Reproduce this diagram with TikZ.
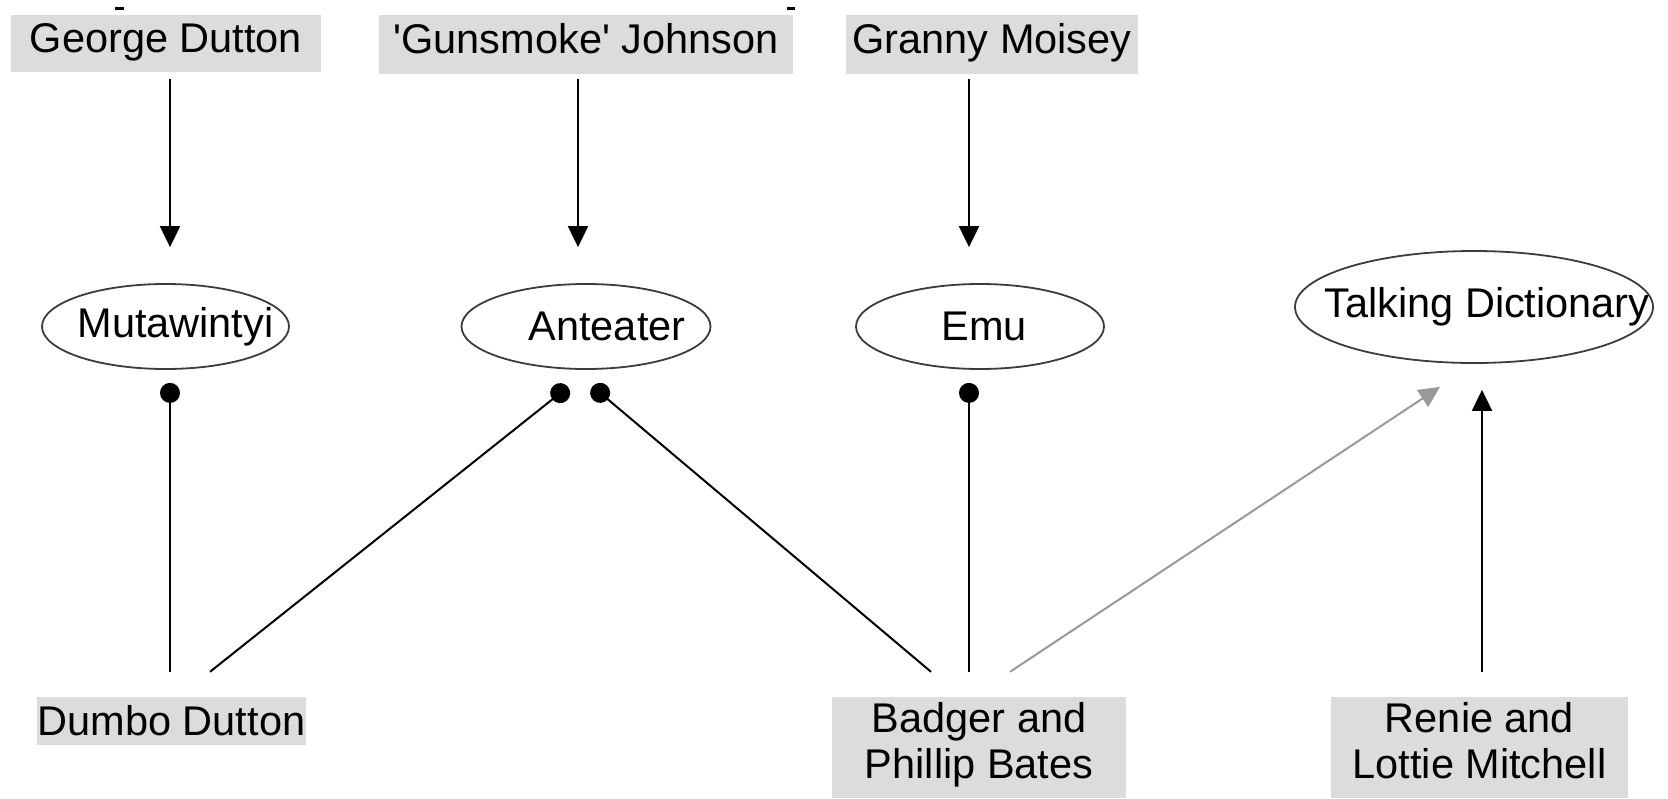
\documentclass[tikz,border=0pt]{standalone}
\usepackage{fontspec}
\setmainfont{Liberation Sans}
\usepackage{tikz}
\usetikzlibrary{arrows.meta,positioning,shapes.geometric,calc}
\definecolor{boxgray}{RGB}{220,220,220}
\definecolor{rimgray}{RGB}{60,60,60}
\tikzstyle{person} = [fill=boxgray, align=center, inner sep=0pt]
\tikzstyle{totem} = [ellipse, draw=rimgray, line width=1.8pt, inner sep=0pt]
\tikzstyle{link} = [draw, line width=2pt, -{Triangle[length=21pt,width=20pt]}]
\tikzstyle{faint} = [link, color=black!40]
\tikzstyle{tie} = [draw, line width=2pt, -{Circle[length=20pt]}]
\newcommand{\who}[4]{node (#1)[person, minimum width=#2, minimum height=#3]{#4}}
\newcommand{\totem}[5]{node (#1)[totem, minimum width=#2, minimum height=#3,
  label={[xshift=#4]center:#5}]{}}

\begin{document}
\begin{tikzpicture}[x=1pt,y=-1pt,font=\fontsize{41.5}{46}\selectfont]
  \useasboundingbox (0,0) rectangle (1668,798);

  % people at the top
  \path (166,43.5) \who{george}{310pt}{57pt}{George Dutton\strut};
  \path (586,44.5) \who{gunsmoke}{414pt}{59pt}{\textquotesingle Gunsmoke\textquotesingle\ Johnson\strut};
  \path (992,44.5) \who{granny}{292pt}{59pt}{Granny Moisey\strut};

  % names
  \path (165.5,326.5) \totem{mut}{247pt}{85pt}{10pt}{Mutawintyi};
  \path (586,326.5) \totem{ant}{249pt}{85pt}{21pt}{Anteater};
  \path (980,326.5) \totem{emu}{248pt}{85pt}{4pt}{Emu};
  \path (1474,307) \totem{talk}{358pt}{112pt}{13pt}{Talking Dictionary};

  % people at the bottom
  \path (171.5,721) \who{dumbo}{269pt}{48pt}{Dumbo Dutton};
  \path (979,747.5) \who{badger}{294pt}{101pt}{Badger and\\Phillip Bates\strut};
  \path (1479.5,747.5) \who{renie}{297pt}{101pt}{Renie and\\Lottie Mitchell\strut};

  % stray marks
  \fill (115,7) rectangle (124,9.5);
  \fill (787,7) rectangle (795,9.5);

  % arrows
  \path [link] ([shift={(4,7)}]george.south) -- ([shift={(4.5,-36)}]mut.north);
  \path [link] ([shift={(-8,5)}]gunsmoke.south) -- ([shift={(-8,-36)}]ant.north);
  \path [link] ([shift={(-23,5)}]granny.south) -- ([shift={(-11,-36)}]emu.north);
  \path [tie] ([shift={(-1.5,-25)}]dumbo.north) -- ([shift={(4.5,13)}]mut.south);
  \path [tie] ([shift={(38.5,-25)}]dumbo.north) -- ([shift={(-18,17)}]ant.south);
  \path [tie] ([shift={(-48,-25)}]badger.north) -- ([shift={(6.5,16.5)}]ant.south);
  \path [tie] ([shift={(-10,-25)}]badger.north) -- ([shift={(-11,13)}]emu.south);
  \path [faint] ([shift={(31,-25)}]badger.north) -- ([shift={(-34,23)}]talk.south);
  \path [link] ([shift={(2.5,-25)}]renie.north) -- ([shift={(8,26)}]talk.south);

\end{tikzpicture}
\end{document}
